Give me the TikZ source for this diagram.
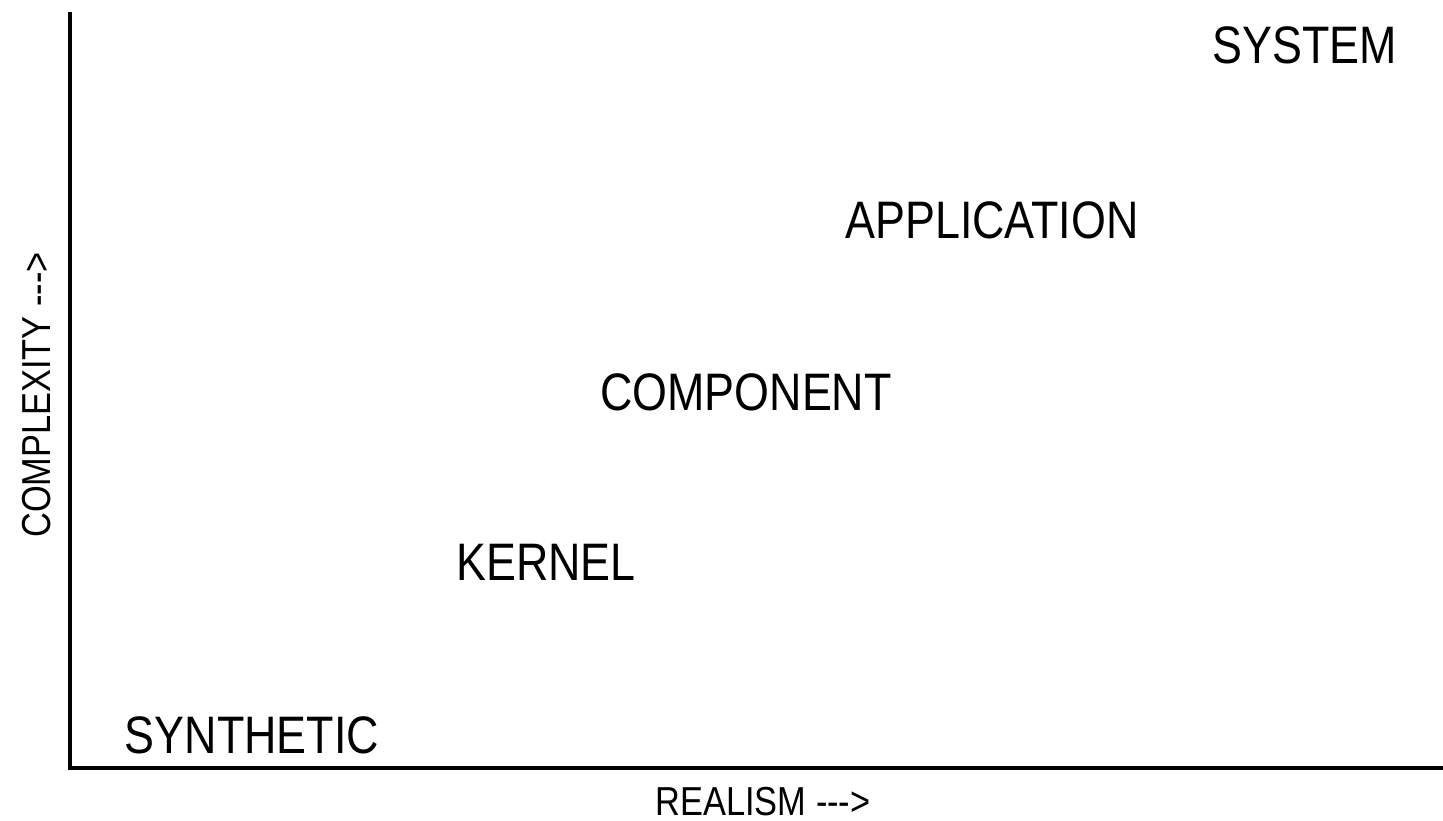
\documentclass[tikz,border=0pt]{standalone}
\usepackage{fontspec}
\setmainfont{Liberation Sans}[FakeStretch=0.85]
\usepackage{tikz}

\begin{document}
\begin{tikzpicture}[x=0.01cm, y=-0.01cm,
    level/.style={font=\fontsize{15}{18}\selectfont, inner sep=0pt},
    axislabel/.style={font=\fontsize{11.5}{13}\selectfont, inner sep=0pt}]
            \useasboundingbox (0,0) rectangle (1443,820);

            % Define corners of the axes
            \coordinate (O) at (70, 768);
            \coordinate (Y_top) at (70, 12);
            \coordinate (X_end) at (1443, 768);

            % Draw axes
            \draw[line width=0.9pt] (Y_top) -- (O) -- (X_end);

            % Axis labels
            \node[axislabel] (realism) at (763, 802) {REALISM -{}-{}-{}>};
            \node[axislabel, rotate=90] (complexity) at (37, 395) {COMPLEXITY -{}-{}-{}>};

            % Add levels
            \node[level] (synthetic) at (252, 735) {SYNTHETIC};
            \node[level] (kernel) at (546, 562) {KERNEL};
            \node[level] (component) at (746, 392) {COMPONENT};
            \node[level] (application) at (992, 220) {APPLICATION};
            \node[level] (system) at (1305, 45) {SYSTEM};
\end{tikzpicture}
\end{document}
